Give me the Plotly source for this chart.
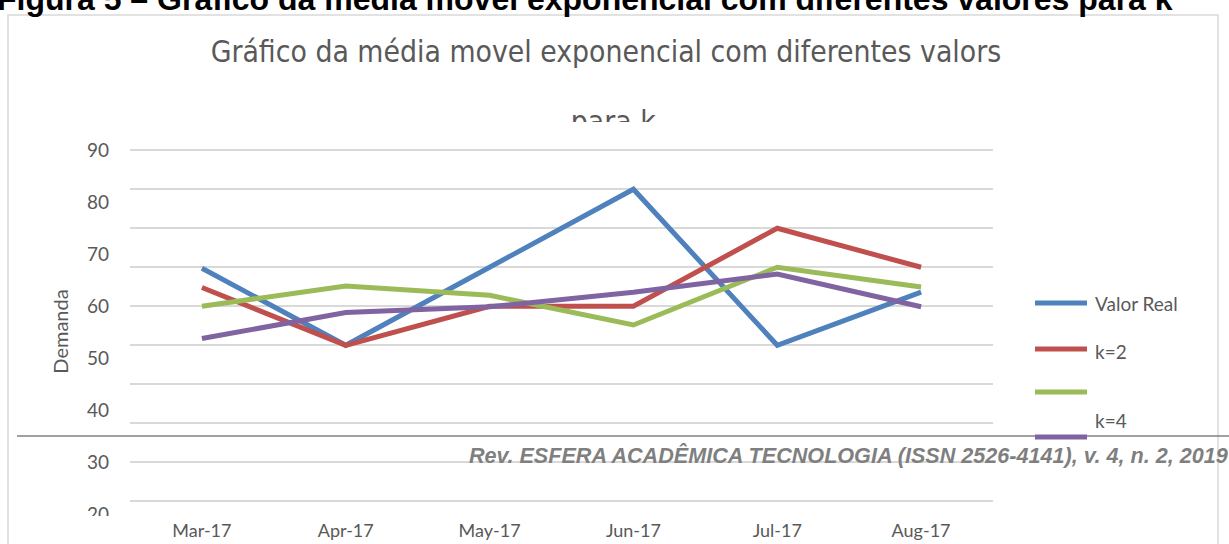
import plotly.graph_objects as go

# ---------------- data ----------------
months = ["Mar-17", "Apr-17", "May-17", "Jun-17", "Jul-17", "Aug-17"]
valor_real = [67.3, 52.5, 67.5, 82.5, 52.5, 62.7]
k2 = [63.6, 52.5, 60.0, 60.0, 75.0, 67.5]
k3 = [60.0, 63.9, 62.1, 56.4, 67.5, 63.7]
k4 = [53.8, 58.8, 59.9, 62.7, 66.2, 59.9]
series = [valor_real, k2, k3, k4]
series_names = ["Valor Real", "k=2", "k=3", "k=4"]
legend_labels = ["Valor Real", "k=2", "", "k=4"]
colors = ["#4f81bd", "#c0504d", "#9bbb59", "#8064a2"]
y_ticks = [20, 30, 40, 50, 60, 70, 80, 90]
grid_step = 7.5
y_title = "Demanda"
title_lines = ["Gráfico da média movel exponencial com diferentes valors", "para k"]
heading = "Figura 5 – Gráfico da média movel exponencial com diferentes valores para k"
journal = "Rev. ESFERA ACADÊMICA TECNOLOGIA (ISSN 2526-4141), v. 4, n. 2, 2019"

W, H = 1229, 544
def px(x):
    return x / W
def py(y):
    return (H - y) / H

GREY = "#595959"
FONT = "Lato, 'Open Sans', sans-serif"
TFONT = "'DejaVu Sans Condensed', Lato, sans-serif"

fig = go.Figure()
for vals, name, col in zip(series, series_names, colors):
    fig.add_trace(go.Scatter(x=months, y=vals, name=name, mode="lines",
                             line=dict(color=col, width=5), showlegend=False,
                             xaxis="x", yaxis="y"))

# title lines as clipped text in a hidden top subplot
fig.add_trace(go.Scatter(x=[0.493, 0.499], y=[0.55, -0.02], mode="text",
                         text=title_lines, textposition="middle center",
                         textfont=dict(family=TFONT, size=29.8, color=GREY),
                         cliponaxis=True, showlegend=False, hoverinfo="skip",
                         xaxis="x3", yaxis="y3"))

yr = [19.3, 91.0]
fig.update_layout(
    width=W, height=H, template="none",
    margin=dict(l=0, r=0, t=0, b=0),
    paper_bgcolor="white", plot_bgcolor="rgba(0,0,0,0)",
    showlegend=False,
    xaxis=dict(domain=[px(130), px(993)], type="category", range=[-0.5, 5.5],
               showgrid=False, showline=False, zeroline=False, ticks="",
               tickfont=dict(family=FONT, size=18, color=GREY), automargin=False,
               anchor="y"),
    yaxis=dict(domain=[py(518), py(145)], range=yr, tickvals=y_ticks,
               showgrid=False, showline=False, zeroline=False, ticks="",
               ticklabelstandoff=20, automargin=False, anchor="x",
               tickfont=dict(family=FONT, size=19, color=GREY),
               minor=dict(tick0=0, dtick=grid_step, showgrid=True, gridcolor="#d9d9d9",
                          gridwidth=1.7, ticks=""),
               title=dict(text=y_title, standoff=12, font=dict(family=FONT, size=20, color=GREY))),
    xaxis3=dict(domain=[0, 1], range=[0, 1], visible=False, anchor="y3", fixedrange=True),
    yaxis3=dict(domain=[py(122), 1], range=[0, 1], visible=False, anchor="x3", fixedrange=True),
)

shapes = [
    # chart border
    dict(type="rect", xref="paper", yref="paper", x0=px(8), x1=px(1218), y0=-0.1, y1=py(15),
         line=dict(color="#d9d9d9", width=1.5), fillcolor="rgba(0,0,0,0)", layer="above"),
    # cut of lowest tick label
    dict(type="rect", xref="paper", yref="paper", x0=px(60), x1=px(125), y0=py(530), y1=py(516),
         line=dict(width=0), fillcolor="white", layer="above"),
    # page break line
    dict(type="line", xref="paper", yref="paper", x0=px(17), x1=1.01, y0=py(436), y1=py(436),
         line=dict(color="#808080", width=1.3), layer="above"),
]
legend_line_y = [303, 349, 392, 437]
legend_text_y = [303, 352, None, 420]
annotations = []
for col, ly, lab, ty in zip(colors, legend_line_y, legend_labels, legend_text_y):
    shapes.append(dict(type="line", xref="paper", yref="paper", x0=px(1035), x1=px(1087),
                       y0=py(ly), y1=py(ly), line=dict(color=col, width=5), layer="above"))
    if lab:
        annotations.append(dict(text=lab, xref="paper", yref="paper", x=px(1093), y=py(ty),
                                xanchor="left", yanchor="middle", showarrow=False,
                                font=dict(family=FONT, size=19, color=GREY)))

annotations.append(dict(text="<b>" + heading + "</b>", xref="paper", yref="paper",
                        x=px(585), y=py(19.5), xanchor="center", yanchor="bottom",
                        showarrow=False,
                        font=dict(family="'Liberation Sans', Arial, sans-serif", size=32, color="black")))
annotations.append(dict(text="<b><i>" + journal + "</i></b>", xref="paper", yref="paper",
                        x=px(467), y=py(455), xanchor="left", yanchor="middle",
                        showarrow=False,
                        font=dict(family="'Liberation Sans', Arial, sans-serif", size=21.6, color="#7f7f7f")))

fig.update_layout(shapes=shapes, annotations=annotations)

fig.write_html("out.html", config={"displayModeBar": False},
               post_script="document.body.style.margin='0';")
